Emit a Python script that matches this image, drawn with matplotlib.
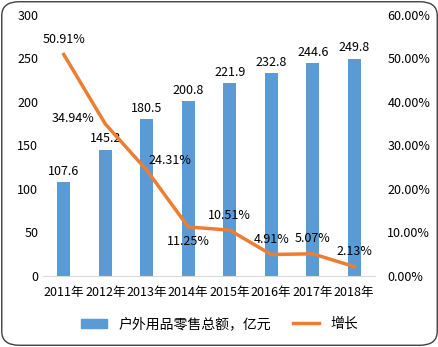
import matplotlib
matplotlib.use("Agg")
import matplotlib.pyplot as plt
from matplotlib.patches import FancyBboxPatch, Patch
from matplotlib.lines import Line2D
from matplotlib.ticker import FuncFormatter

plt.rcParams["font.family"] = ["Noto Sans CJK SC", "DejaVu Sans"]

years = ["2011年", "2012年", "2013年", "2014年", "2015年", "2016年", "2017年", "2018年"]
sales = [107.6, 145.2, 180.5, 200.8, 221.9, 232.8, 244.6, 249.8]
growth = [50.91, 34.94, 24.31, 11.25, 10.51, 4.91, 5.07, 2.13]
# label placement for growth labels: (dx points, dy points, ha, va)
growth_pos = [(0, 6, "center", "bottom"), (-8, 4, "right", "center"),
              (1, 7, "left", "center"), (0, -6, "center", "top"),
              (0, 6, "center", "bottom"), (0, 6, "center", "bottom"),
              (0, 6, "center", "bottom"), (0, 6, "center", "bottom")]

BLUE = "#5B9BD5"
ORANGE = "#ED7D31"
FS = 9

fig = plt.figure(figsize=(4.39, 3.47), dpi=100)
ax = fig.add_axes([0.098, 0.205, 0.756, 0.752])
x = range(len(years))
ax.bar(x, sales, width=0.31, color=BLUE, zorder=2)
for i, v in enumerate(sales):
    ax.annotate(f"{v:g}", (i, v), xytext=(0, 3), textcoords="offset points",
                ha="center", va="bottom", fontsize=FS)
ax.set_xlim(-0.5, 7.5)
ax.set_ylim(0, 300)
ax.set_yticks(range(0, 301, 50))
ax.set_xticks(list(x))
ax.set_xticklabels(years, fontsize=FS)
ax.tick_params(length=0, labelsize=FS)
ax.tick_params(axis="x", pad=7)
for s in ["top", "right", "left"]:
    ax.spines[s].set_visible(False)
ax.spines["bottom"].set_color("#D9D9D9")

ax2 = ax.twinx()
ax2.plot(x, growth, color=ORANGE, lw=2.5, zorder=3)
for i, v in enumerate(growth):
    dx, dy, ha, va = growth_pos[i]
    ax2.annotate(f"{v:.2f}%", (i, v), xytext=(dx, dy), textcoords="offset points",
                 ha=ha, va=va, fontsize=FS)
ax2.set_ylim(0, 60)
ax2.set_yticks(range(0, 61, 10))
ax2.yaxis.set_major_formatter(FuncFormatter(lambda v, p: f"{v:.2f}%"))
ax2.tick_params(length=0, labelsize=FS, pad=9)
for s in ax2.spines.values():
    s.set_visible(False)

handles = [Patch(color=BLUE), Line2D([0], [0], color=ORANGE, lw=2.5)]
fig.legend(handles, ["户外用品零售总额，亿元", "增长"], loc="center",
           bbox_to_anchor=(0.5, 0.066), ncol=2, frameon=False, fontsize=10,
           handlelength=1.9, columnspacing=1.6, handleheight=0.6)

border = FancyBboxPatch((0.004, 0.005), 0.992, 0.99, boxstyle="round,pad=0,rounding_size=0.04",
                        transform=fig.transFigure, fill=False, edgecolor="#404040", lw=1.0)
fig.add_artist(border)

fig.savefig("out.png", dpi=100)
